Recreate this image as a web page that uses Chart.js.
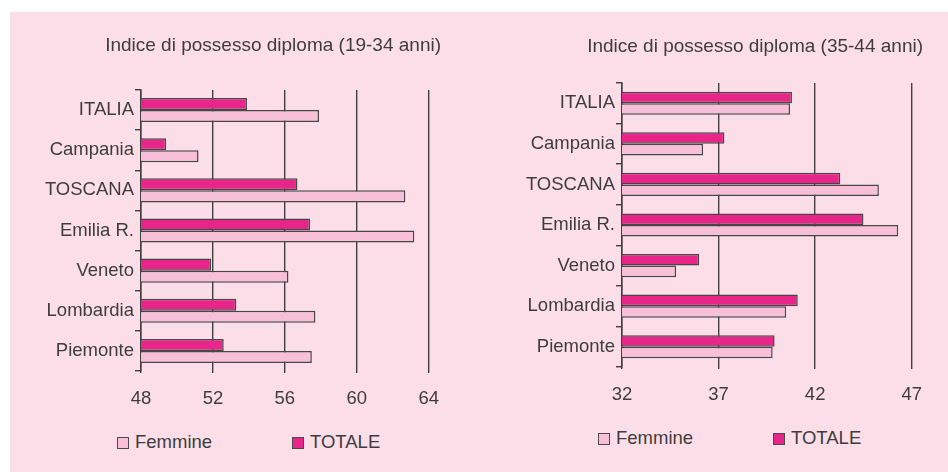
<!DOCTYPE html>
<html>
<head>
<meta charset="utf-8">
<script src="https://cdn.jsdelivr.net/npm/chart.js@4.4.1/dist/chart.umd.min.js"></script>
<style>
    body { margin: 0; background: #ffffff; width: 948px; height: 472px; overflow: hidden; position: relative; font-family: 'Liberation Sans', Arial, sans-serif; }
    #sfondo { position: absolute; left: 10px; top: 12px; width: 938px; height: 460px; background: #fcdee9; }
    canvas { position: absolute; top: 0; }
    #graficoGiovani { left: 20px; }
    #graficoAdulti { left: 500px; }
    .legenda { position: absolute; font-size: 18.5px; color: #3d3d3d; line-height: 20px; white-space: nowrap; }
    .legenda span.box { display: inline-block; width: 10px; height: 10px; border: 1.5px solid #4a4a4a; vertical-align: -1px; margin-right: 6px; }
</style>
</head>
<body>
<div id="sfondo"></div>
<canvas id="graficoGiovani" width="434" height="411"></canvas>
<canvas id="graficoAdulti" width="437" height="407"></canvas>

<div class="legenda" style="left:117px; top:432px;"><span class="box" style="background:#f7bfd8"></span>Femmine</div>
<div class="legenda" style="left:292px; top:432px;"><span class="box" style="background:#e8268a"></span>TOTALE</div>
<div class="legenda" style="left:598px; top:428px;"><span class="box" style="background:#f7bfd8"></span>Femmine</div>
<div class="legenda" style="left:773px; top:428px;"><span class="box" style="background:#e8268a"></span>TOTALE</div>

<script>
// regioni, dall'alto verso il basso
const regioni = ['ITALIA', 'Campania', 'TOSCANA', 'Emilia R.', 'Veneto', 'Lombardia', 'Piemonte'];

// 19-34 anni
const totaleGiovani = [53.9, 49.4, 56.7, 57.4, 51.9, 53.3, 52.6];
const femmineGiovani = [57.9, 51.2, 62.7, 63.2, 56.2, 57.7, 57.5];
const tickGiovani = [48, 52, 56, 60, 64];

// 35-44 anni
const totaleAdulti = [40.8, 37.3, 43.3, 44.5, 36.0, 41.1, 39.9];
const femmineAdulti = [40.7, 36.2, 45.3, 46.3, 34.8, 40.5, 39.8];
const tickAdulti = [32, 37, 42, 47];

const colTotale = '#e8268a';
const colFemmine = '#f7bfd8';
const colLinee = '#404040';
const colTesto = '#3d3d3d';
const fontBase = "'Liberation Sans', Arial, sans-serif";

function creaGrafico(id, titolo, totale, femmine, ticks, larghezzaAsse, padTitolo, catPerc, padDestra) {
    const ctx = document.getElementById(id);
    return new Chart(ctx, {
        type: 'bar',
        data: {
            labels: regioni,
            datasets: [{
                label: 'TOTALE',
                data: totale,
                backgroundColor: colTotale,
                borderColor: '#474747',
                borderWidth: 1.5,
                borderSkipped: false
            }, {
                label: 'Femmine',
                data: femmine,
                backgroundColor: colFemmine,
                borderColor: '#474747',
                borderWidth: 1.5,
                borderSkipped: false
            }]
        },
        options: {
            indexAxis: 'y',
            responsive: false,
            animation: false,
            layout: { padding: { right: padDestra } },
            datasets: {
                bar: { categoryPercentage: catPerc, barPercentage: 1.0 }
            },
            plugins: {
                legend: { display: false },
                tooltip: { enabled: false },
                title: {
                    display: true,
                    text: titolo,
                    align: 'end',
                    color: colTesto,
                    font: { family: fontBase, size: 19, weight: 'normal' },
                    padding: padTitolo
                }
            },
            scales: {
                x: {
                    min: ticks[0],
                    max: ticks[ticks.length - 1],
                    afterBuildTicks: function (s) {
                        s.ticks = ticks.map(function (v) { return { value: v }; });
                    },
                    afterFit: function (s) { s.height = 40; },
                    border: { display: false },
                    grid: { color: colLinee, lineWidth: 1.4, drawTicks: true, tickLength: 2 },
                    ticks: {
                        color: colTesto,
                        padding: 15,
                        maxRotation: 0,
                        font: { family: fontBase, size: 18.5 }
                    }
                },
                y: {
                    afterFit: function (s) { s.width = larghezzaAsse; },
                    border: { display: true, color: colLinee, width: 1.5 },
                    grid: {
                        offset: true,
                        drawOnChartArea: false,
                        drawTicks: true,
                        tickLength: 6,
                        color: colLinee,
                        lineWidth: 1.4
                    },
                    ticks: {
                        color: colTesto,
                        padding: 1,
                        font: { family: fontBase, size: 18.5 }
                    }
                }
            }
        }
    });
}

window.addEventListener('load', function () {
    creaGrafico('graficoGiovani', 'Indice di possesso diploma (19-34 anni)',
        totaleGiovani, femmineGiovani, tickGiovani, 121, { top: 34.6, bottom: 32.6 }, 0.6, 13);
    creaGrafico('graficoAdulti', 'Indice di possesso diploma (35-44 anni)',
        totaleAdulti, femmineAdulti, tickAdulti, 122, { top: 35.6, bottom: 24.6 }, 0.57, 14);
});
</script>
</body>
</html>
